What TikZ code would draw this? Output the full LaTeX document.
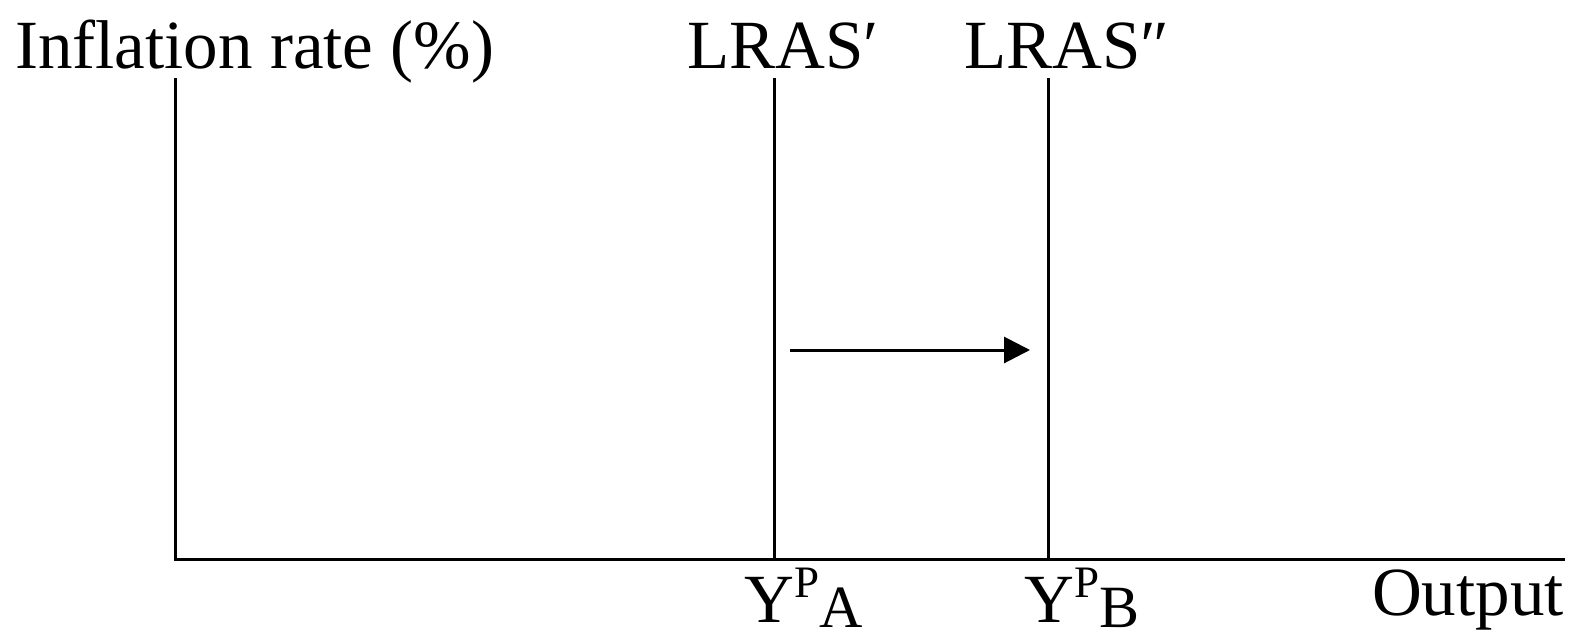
\documentclass[tikz,border=0pt]{standalone}
\usepackage{fontspec}
\setmainfont{Liberation Serif}
\usetikzlibrary{arrows.meta}
\tikzset{
  axisline/.style={line width=3pt},
  lbl/.style={inner sep=0pt, font=\fontsize{69}{76}\selectfont},
  shiftarrow/.style={line width=3pt, -{Triangle[length=26pt,width=26pt]}}
}
\newcommand{\YP}[1]{Y\raisebox{25pt}{\fontsize{45}{50}\selectfont P}\raisebox{-5pt}[\height][0pt]{\fontsize{60}{66}\selectfont #1}}
\begin{document}
\begin{tikzpicture}[x=1pt,y=-1pt]
\useasboundingbox (0,0) rectangle (1573,634);
\coordinate (ytop) at (175,78);
\coordinate (origin) at (175,559);
\coordinate (xend) at (1565,559);
\coordinate (atop) at (774,78);
\coordinate (abot) at (774,559);
\coordinate (btop) at (1048,78);
\coordinate (bbot) at (1048,559);
\coordinate (arrs) at (790,350);
\coordinate (arre) at (1030,350);
\draw[axisline] (ytop) -- (origin) -- (xend);
\draw[axisline] (atop) -- (abot);
\draw[axisline] (btop) -- (bbot);
\draw[shiftarrow] (arrs) -- (arre);
\node[lbl, anchor=base west] (ylab) at (15,68) {Inflation rate (\%)};
\node[lbl, anchor=base west] (lrasa) at (687,68) {LRAS′};
\node[lbl, anchor=base west] (lrasb) at (964,68) {LRAS″};
\node[lbl, anchor=base west] (ypa) at (744,622) {\YP{A}};
\node[lbl, anchor=base west] (ypb) at (1024,622) {\YP{B}};
\node[lbl, anchor=base east] (xlab) at (1564,615) {Output};
\end{tikzpicture}
\end{document}
